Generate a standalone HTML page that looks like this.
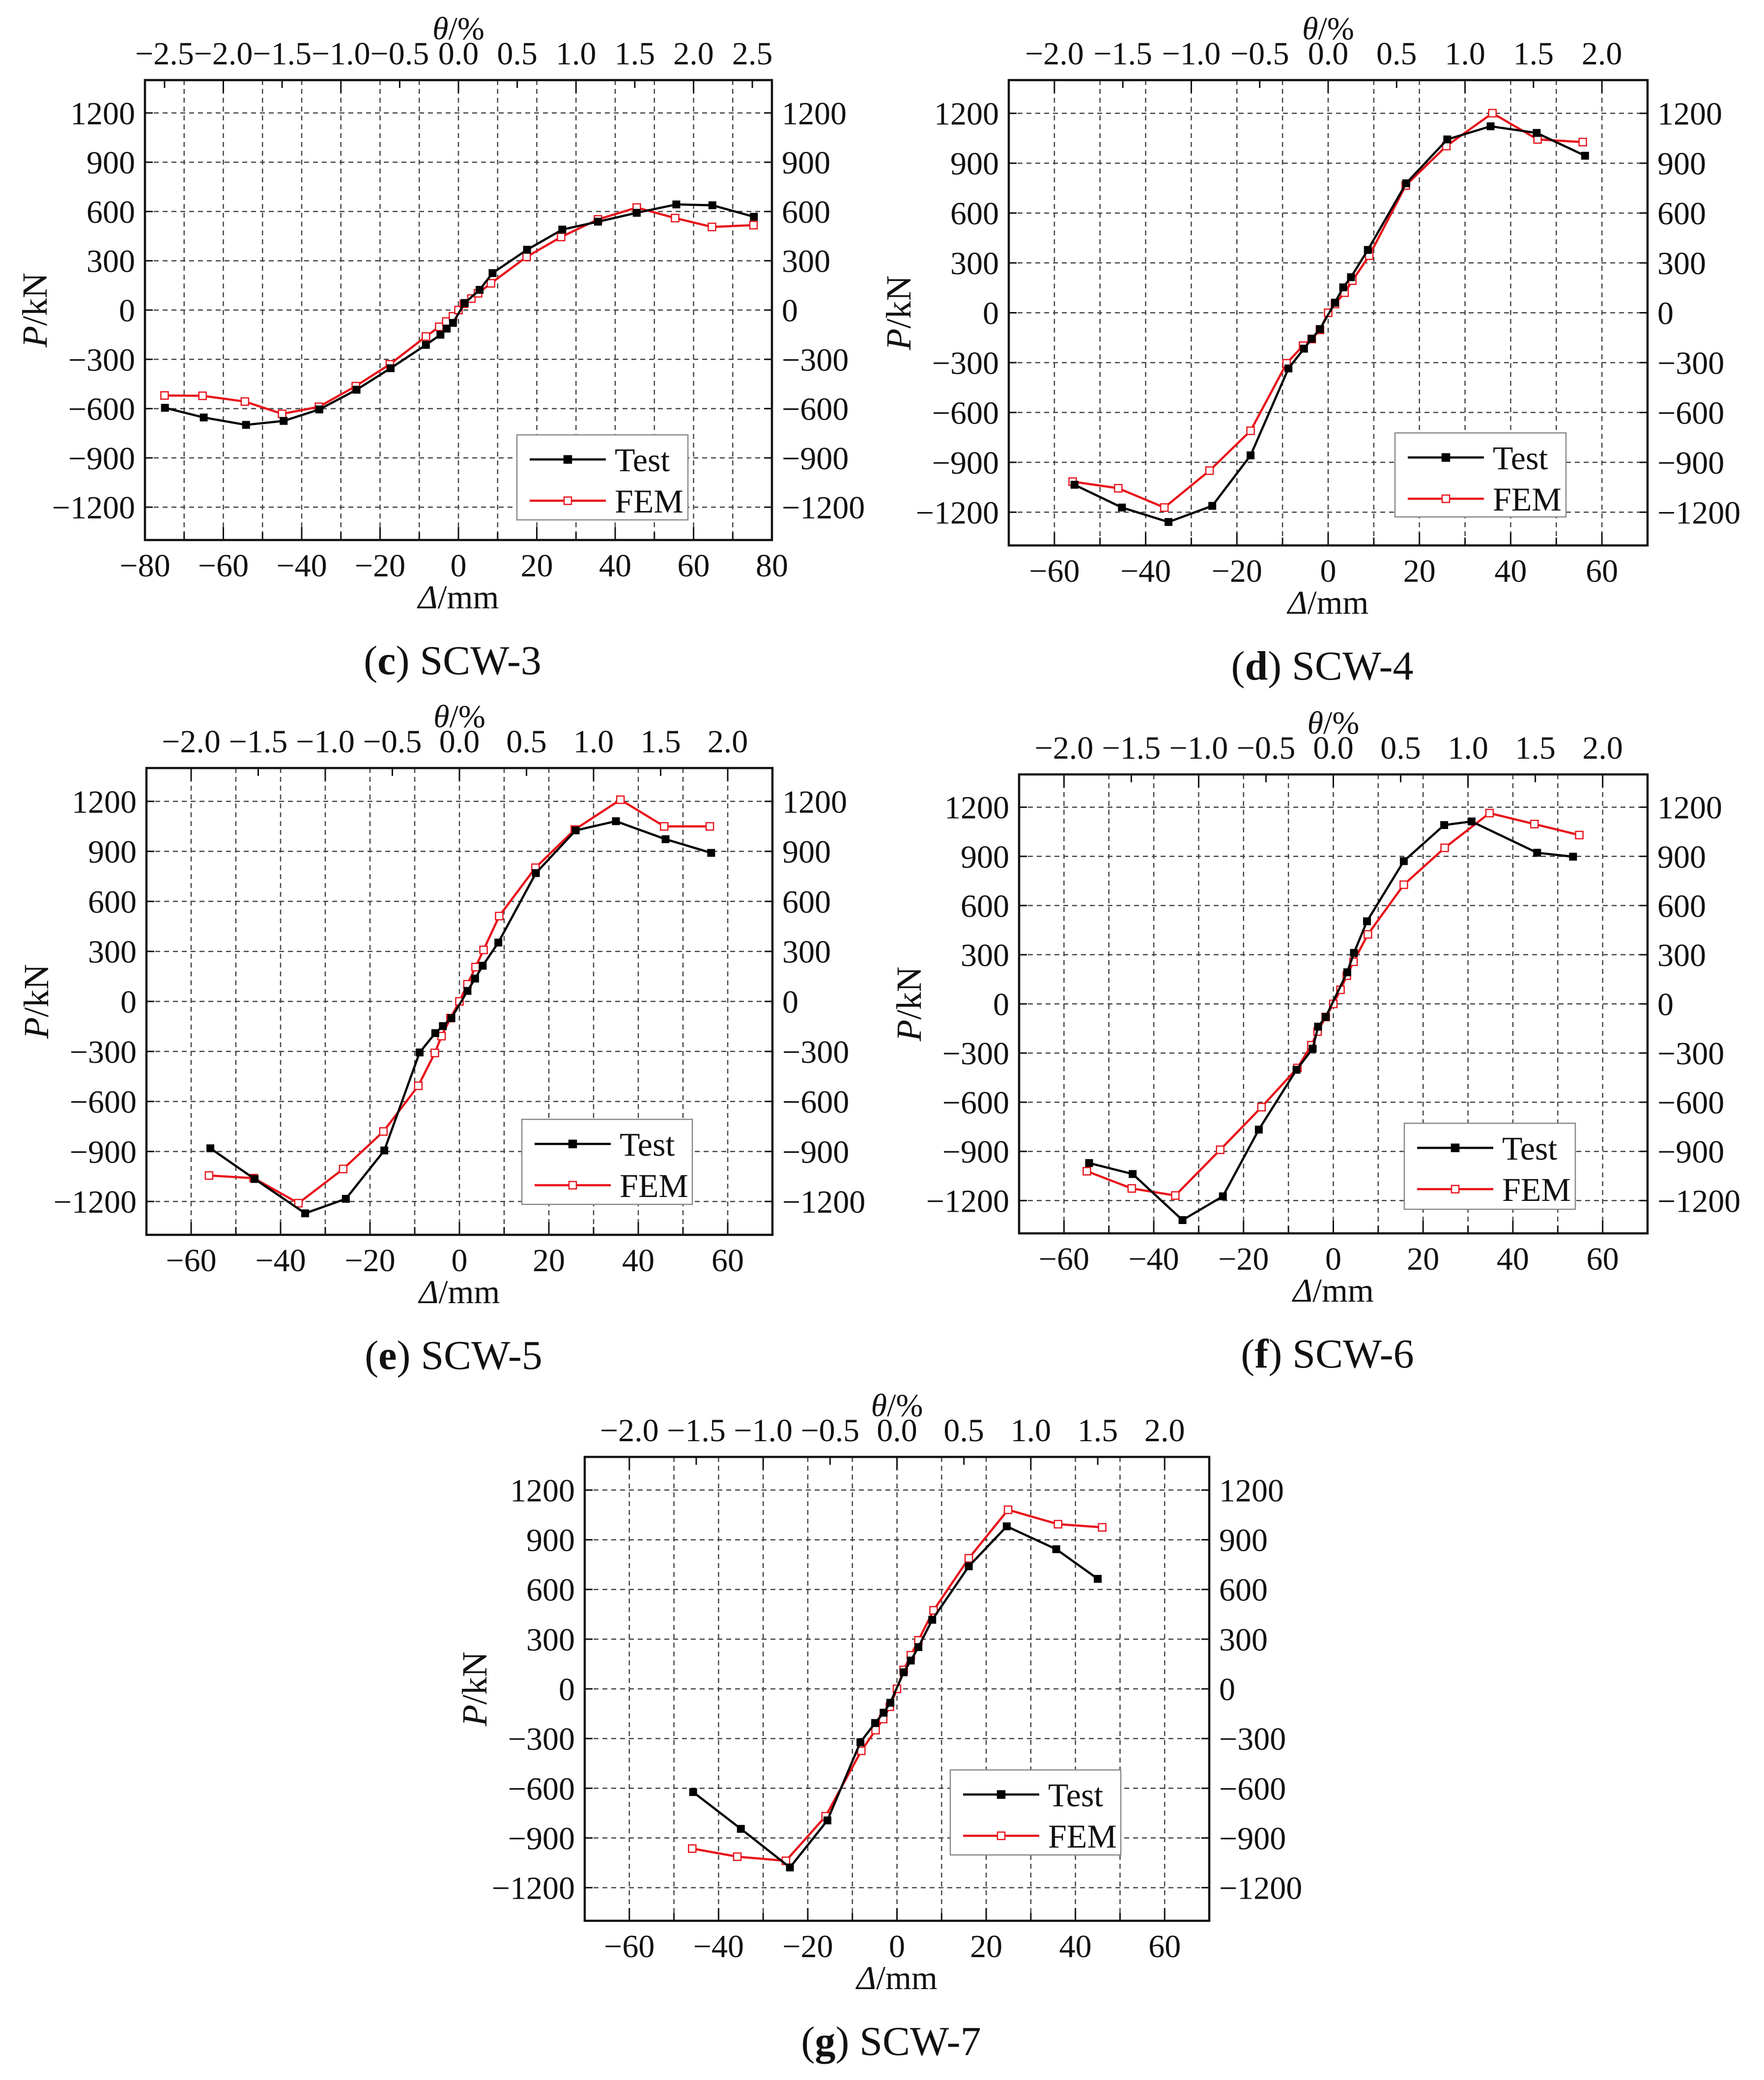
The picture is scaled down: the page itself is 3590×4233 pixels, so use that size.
<!DOCTYPE html>
<html><head><meta charset="utf-8"><style>
html,body{margin:0;padding:0;background:#fff;}
svg{display:block;font-family:"Liberation Serif","DejaVu Serif",serif;}
</style></head><body>
<svg id="fig" xmlns="http://www.w3.org/2000/svg" width="3590" height="4233" viewBox="0 0 3590 4233">
<rect x="0" y="0" width="3590" height="4233" fill="#fff"/>
</svg>
<script>
// ---- data (Δ in mm, P in kN) ----
const c_testX=[-74.9,-65,-54.2,-44.6,-35.5,-26,-17.3,-8.3,-4.6,-3,-1.4,1.6,5.4,8.7,17.5,26.5,35.6,45.5,55.6,64.8,75.4];
const c_testY=[-595,-654,-699,-675,-605,-485,-354,-212,-150,-113,-78,43,123,225,367,490,538,592,643,638,568];
const c_femX=[-75,-65.3,-54.5,-45,-35.6,-26.2,-17.5,-8.3,-4.9,-3.1,-1.4,0,1.4,3.3,5,8.3,17.4,26.2,35.6,45.5,55.3,64.7,75.3];
const c_femY=[-520,-522,-557,-632,-589,-463,-330,-161,-102,-70,-38,0,38,70,102,163,324,445,552,624,560,506,517];

const d_testX=[-55.6,-45.2,-35,-25.4,-17,-8.7,-5.3,-3.6,-1.8,1.5,3.3,5,8.7,17.1,26.1,35.6,45.7,56.3];
const d_testY=[-1035,-1172,-1259,-1162,-858,-335,-216,-156,-98,61,153,214,378,779,1043,1122,1082,945];
const d_femX=[-56,-46,-35.9,-26,-17,-9.1,-5.5,-3.6,-1.8,0,1.5,3.6,5.3,9,17,25.9,36,45.9,55.8];
const d_femY=[-1016,-1056,-1172,-950,-710,-304,-198,-158,-103,0,53,121,193,343,766,1003,1201,1043,1027];

const e_testX=[-55.7,-45.8,-34.5,-25.4,-16.8,-8.9,-5.4,-3.7,-1.8,1.8,3.5,5.2,8.7,17.1,26,35,46.1,56.3];
const e_testY=[-881,-1065,-1271,-1184,-894,-306,-190,-148,-100,63,137,214,353,770,1026,1081,973,891];
const e_femX=[-56,-46,-36,-26,-17,-9.2,-5.5,-4,-2,0,1.8,3.6,5.4,8.9,17,25.8,36,45.8,56];
const e_femY=[-1044,-1060,-1210,-1005,-780,-506,-309,-208,-100,0,103,206,309,512,802,1031,1210,1050,1050];

const f_testX=[-54.4,-44.7,-33.6,-24.6,-16.6,-8.2,-4.6,-3.4,-1.7,3.1,4.6,7.5,15.7,24.7,30.8,45.4,53.4];
const f_testY=[-971,-1038,-1319,-1174,-767,-402,-273,-139,-80,193,311,504,871,1091,1113,922,898];
const f_femX=[-54.9,-44.9,-35.2,-25.2,-16,-8,-4.9,-3.5,-1.7,0,1.6,3,4.5,7.7,15.7,24.8,34.8,44.8,54.8];
const f_femY=[-1021,-1126,-1169,-890,-630,-391,-252,-169,-80,0,86,172,257,424,727,952,1164,1097,1030];

const g_testX=[-45.7,-35,-24,-15.6,-8.2,-4.9,-3,-1.5,1.5,3.1,4.8,7.9,16.1,24.6,35.7,45];
const g_testY=[-623,-845,-1078,-794,-322,-206,-144,-84,100,171,252,417,740,981,843,664];
const g_femX=[-45.9,-35.8,-24.9,-16,-8,-4.8,-3.1,-1.6,0,1.5,3.1,4.8,8.2,16.1,24.9,36.1,46];
const g_femY=[-964,-1013,-1038,-769,-374,-249,-182,-108,0,114,203,293,474,788,1081,994,975];

const yTicks=[-1200,-900,-600,-300,0,300,600,900,1200];
const yTickLabels=['−1200','−900','−600','−300','0','300','600','900','1200'];
const xTicks80=[-80,-60,-40,-20,0,20,40,60,80];
const xTickLabels80=['−80','−60','−40','−20','0','20','40','60','80'];
const xTicks60=[-60,-40,-20,0,20,40,60];
const xTickLabels60=['−60','−40','−20','0','20','40','60'];
const thTicks25=[-2.5,-2.0,-1.5,-1.0,-0.5,0.0,0.5,1.0,1.5,2.0,2.5];
const thTickLabels25=['−2.5','−2.0','−1.5','−1.0','−0.5','0.0','0.5','1.0','1.5','2.0','2.5'];
const thTicks20=[-2.0,-1.5,-1.0,-0.5,0.0,0.5,1.0,1.5,2.0];
const thTickLabels20=['−2.0','−1.5','−1.0','−0.5','0.0','0.5','1.0','1.5','2.0'];

const NS='http://www.w3.org/2000/svg';
const svg=document.getElementById('fig');
function mk(tag,attrs,parent){const e=document.createElementNS(NS,tag);for(const k in attrs)e.setAttribute(k,attrs[k]);(parent||svg).appendChild(e);return e;}

const panels=[
 {id:'c',name:'SCW-3',L:295,R:1571,T:163,B:1099,xmin:-80,xmax:80,xt:xTicks80,xl:xTickLabels80,tt:thTicks25,tl:thTickLabels25,
  tx:c_testX,ty:c_testY,fx:c_femX,fy:c_femY,leg:[1052,885,348,173]},
 {id:'d',name:'SCW-4',L:2053,R:3353,T:163,B:1110,xmin:-70,xmax:70,xt:xTicks60,xl:xTickLabels60,tt:thTicks20,tl:thTickLabels20,
  tx:d_testX,ty:d_testY,fx:d_femX,fy:d_femY,leg:[2839,881,348,171]},
 {id:'e',name:'SCW-5',L:298,R:1572,T:1563,B:2513,xmin:-70,xmax:70,xt:xTicks60,xl:xTickLabels60,tt:thTicks20,tl:thTickLabels20,
  tx:e_testX,ty:e_testY,fx:e_femX,fy:e_femY,leg:[1062,2278,347,173]},
 {id:'f',name:'SCW-6',L:2074,R:3353,T:1576,B:2510,xmin:-70,xmax:70,xt:xTicks60,xl:xTickLabels60,tt:thTicks20,tl:thTickLabels20,
  tx:f_testX,ty:f_testY,fx:f_femX,fy:f_femY,leg:[2858,2286,348,175]},
 {id:'g',name:'SCW-7',L:1190,R:2461,T:2965,B:3909,xmin:-70,xmax:70,xt:xTicks60,xl:xTickLabels60,tt:thTicks20,tl:thTickLabels20,
  tx:g_testX,ty:g_testY,fx:g_femX,fy:g_femY,leg:[1934,3602,347,173]}
];

panels.forEach(p=>{
 const g=mk('g',{});
 
 
 const xs=v=>p.L+(v-p.xmin)/(p.xmax-p.xmin)*(p.R-p.L);
 const ys=v=>p.B-(v+1400)/2800*(p.B-p.T);
 const th=v=>xs(v*30);
 const grid=mk('g',{stroke:'#444','stroke-width':2.5,'stroke-dasharray':'10,8',fill:'none'},g);
 
 
 for(let v=Math.ceil(p.xmin/10)*10;v<=p.xmax;v+=10){ if(xs(v)<=p.L+2||xs(v)>=p.R-2)continue;
   mk('line',{x1:xs(v),x2:xs(v),y1:p.T,y2:p.B},grid);}
 yTicks.forEach(v=>mk('line',{x1:p.L,x2:p.R,y1:ys(v),y2:ys(v)},grid));
 const tk=mk('g',{stroke:'#111','stroke-width':3},g);
 for(let v=Math.ceil(p.xmin/10)*10;v<=p.xmax;v+=10){ if(xs(v)<=p.L+2||xs(v)>=p.R-2)continue;
   mk('line',{x1:xs(v),x2:xs(v),y1:p.B,y2:p.B-(v%20===0?26:16)},tk);}
 p.tt.forEach(v=>{const X=th(v); if(X<=p.L||X>=p.R)return; mk('line',{x1:X,x2:X,y1:p.T,y2:p.T+(Math.abs(v%1)<1e-6?26:16)},tk);});
 yTicks.forEach(v=>{mk('line',{x1:p.L,x2:p.L+16,y1:ys(v),y2:ys(v)},tk);mk('line',{x1:p.R,x2:p.R-16,y1:ys(v),y2:ys(v)},tk);});
 const fr=mk('rect',{x:p.L,y:p.T,width:p.R-p.L,height:p.B-p.T,fill:'none',stroke:'#111','stroke-width':4.5},g);
 
 
 const lab=mk('g',{'font-size':66,fill:'#111'},g);
 p.xt.forEach((v,i)=>{const t=mk('text',{x:xs(v),y:p.B+74,'text-anchor':'middle'},lab);t.textContent=p.xl[i];
   });
 p.tt.forEach((v,i)=>{const t=mk('text',{x:th(v),y:p.T-32,'text-anchor':'middle'},lab);t.textContent=p.tl[i];
   });
 yTicks.forEach((v,i)=>{const t=mk('text',{x:p.L-20,y:ys(v)+23,'text-anchor':'end'},lab);t.textContent=yTickLabels[i];
   
   const t2=mk('text',{x:p.R+20,y:ys(v)+23,'text-anchor':'start'},lab);t2.textContent=yTickLabels[i];
   });
 const cx=(p.L+p.R)/2, cy=(p.T+p.B)/2;
 const xt=mk('text',{x:cx,y:p.B+139,'text-anchor':'middle','font-size':68,fill:'#111'},g);
 xt.innerHTML='<tspan font-style="italic">Δ</tspan>/mm';
 
 const tt=mk('text',{x:cx,y:p.T-83,'text-anchor':'middle','font-size':66,fill:'#111'},g);
 tt.innerHTML='<tspan font-style="italic">θ</tspan>/%';
 
 const yt=mk('text',{x:0,y:0,'text-anchor':'middle','font-size':72,fill:'#111',transform:`translate(${p.L-200},${cy}) rotate(-90)`},g);
 yt.innerHTML='<tspan font-style="italic">P</tspan>/kN';
 
 function series(X,Y,color,fillc,nm){
   const sg=mk('g',{},g);
   
   
   const pts=X.map((v,i)=>xs(v)+','+ys(Y[i])).join(' ');
   mk('polyline',{points:pts,fill:'none',stroke:color,'stroke-width':4.5,'stroke-linejoin':'round'},sg);
   X.forEach((v,i)=>{const r=mk('rect',{x:xs(v)-7.5,y:ys(Y[i])-7.5,width:15,height:15,fill:fillc,stroke:color,'stroke-width':fillc==='#fff'?2.5:1},sg);
     });
 }
 series(p.fx,p.fy,'#e8131b','#fff','fem');
 series(p.tx,p.ty,'#000','#000','test');
 const [lx,ly,lw,lh]=p.leg;
 const lg=mk('g',{},g);
 
 
 mk('rect',{x:lx,y:ly,width:lw,height:lh,fill:'#fff',stroke:'#888','stroke-width':2.5},lg);
 const rows=[['Test','#000','#000',50],['FEM','#e8131b','#fff',134]];
 rows.forEach(r=>{const e=mk('g',{},lg);
   
   
   mk('line',{x1:lx+26,x2:lx+181,y1:ly+r[3],y2:ly+r[3],stroke:r[1],'stroke-width':4.5},e);
   mk('rect',{x:lx+96,y:ly+r[3]-7.5,width:15,height:15,fill:r[2],stroke:r[1],'stroke-width':2.5},e);
   const t=mk('text',{x:lx+199,y:ly+r[3]+24,'font-size':68,fill:'#111'},e);t.textContent=r[0];});
 const cap=mk('text',{x:cx-12,y:p.B+273,'text-anchor':'middle','font-size':84,fill:'#111'},g);
 cap.innerHTML='(<tspan font-weight="bold">'+p.id+'</tspan>) '+p.name;
 
 
});
</script>
</body></html>
